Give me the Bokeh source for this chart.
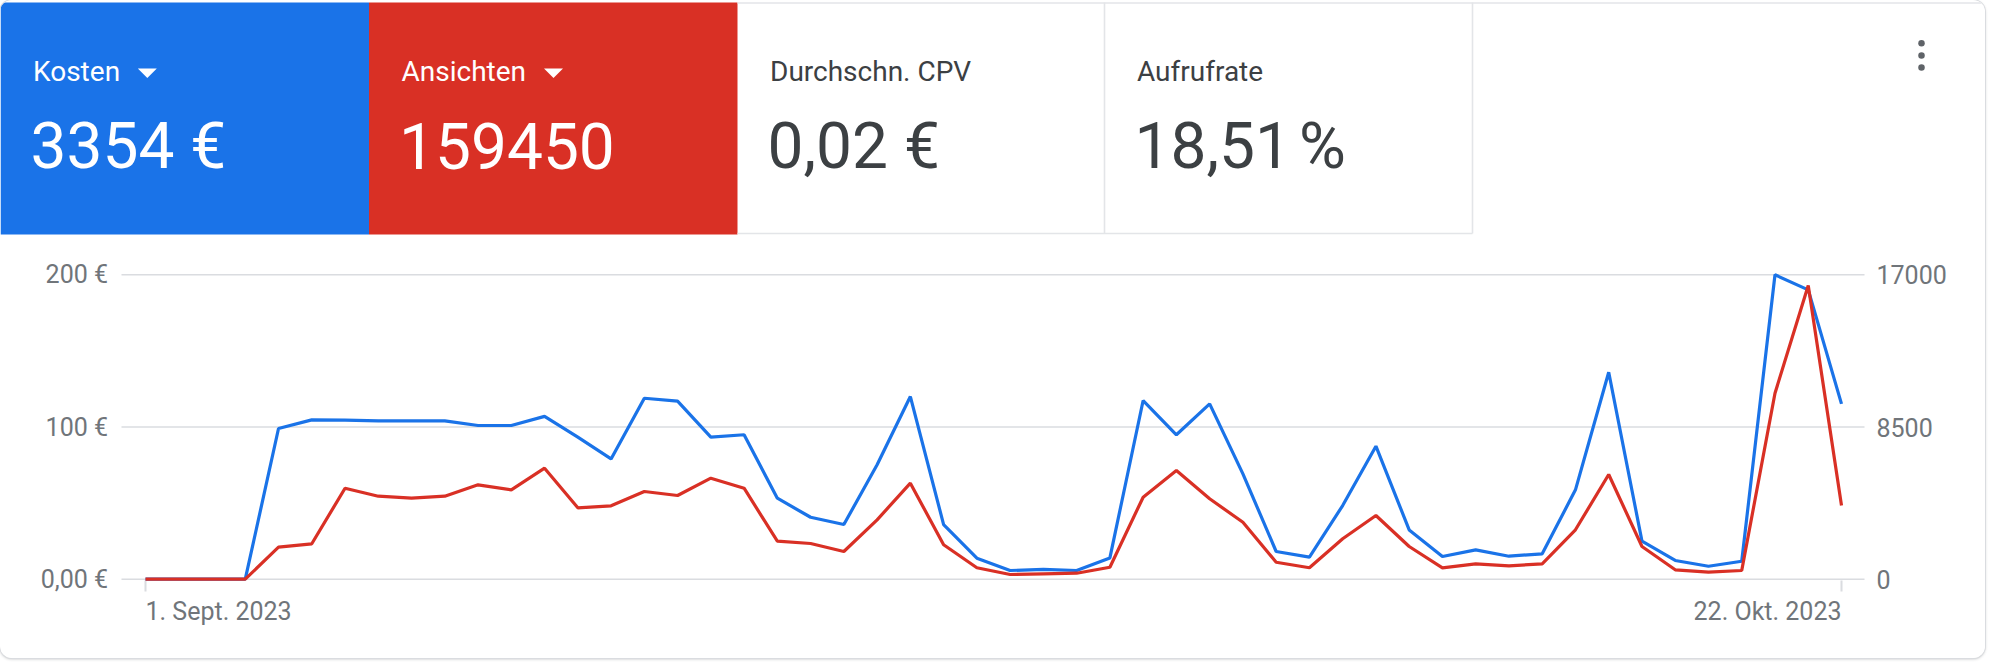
import pandas as pd
from bokeh.plotting import figure
from bokeh.models import Range1d, ColumnDataSource
from bokeh.core.properties import value
from bokeh.embed import file_html
from bokeh.resources import INLINE

# ---------------- data ----------------
dates = pd.date_range("2023-09-01", "2023-10-22", freq="D")
cost_eur = [0, 0, 0, 0, 99, 104.7, 104.5, 104, 104, 104, 101, 101, 107, 93.3, 79,
            118.9, 117, 93.3, 94.9, 53.2, 40.7, 35.9, 75.2, 120, 35.9, 13.8, 5.7, 6.4,
            5.7, 14, 117.4, 94.9, 115.2, 69.2, 18.2, 14.5, 48.4, 87.4, 32.4, 14.9, 19.3,
            15.1, 16.7, 58.7, 136, 25, 12.3, 8.5, 11.8, 200, 190.1, 115.2]
views = [0, 0, 0, 0, 1787, 1977, 5082, 4635, 4524, 4635, 5272, 4993, 6199, 3987, 4099,
         4898, 4674, 5641, 5082, 2122, 1994, 1547, 3317, 5362, 1921, 637, 262, 302,
         335, 670, 4580, 6071, 4490, 3183, 949, 637, 2256, 3558, 1826, 637, 860,
         748, 860, 2759, 5847, 1826, 525, 391, 486, 10388, 16403, 4116]

metric_names = ["Kosten", "Ansichten", "Durchschn. CPV", "Aufrufrate"]
metric_values = ["3354 €", "159450", "0,02 €", "18,51\u202f%"]

cost_ticks = [0, 100, 200]
cost_tick_labels = ["0,00 €", "100 €", "200 €"]
views_ticks = [0, 8500, 17000]
views_tick_labels = ["0", "8500", "17000"]
date_tick_labels = ["1. Sept. 2023", "22. Okt. 2023"]

# ---------------- styles / layout (pixel positions on the page) ----------------
BLUE = "#1a73e8"
RED = "#d93025"
DARK = "#3c4043"
GRAY = "#70757a"
GRID = "#dadce0"
BORDER = "#e3e5e8"
FONT = value("Roboto")

W, H = 1985, 658
LEFT, RIGHT, TOP, BOTTOM = 0, W, 0, H

GRID_L, GRID_R = 121, 1864   # horizontal extent of the grid lines
X0, XN = 145, 1841           # first / last day
Y0, YMAX = 578.7, 274.3      # value 0 / top tick
LBL_L, LBL_R = 107.5, 1876   # y tick label anchors
DATE_MID = 610.5             # vertical centre of the date labels

DAY_MS = 86400000.0
ms = dates.asi8 / 1e6
day_px = (XN - X0) / (len(dates) - 1)


def px_to_ms(px):
    return ms[0] + (px - X0) / day_px * DAY_MS


px_per = (Y0 - YMAX) / cost_ticks[-1]


def py_to_cost(py):
    return (Y0 - py) / px_per


ratio = views_ticks[-1] / cost_ticks[-1]

p = figure(width=W, height=H,
           x_range=Range1d(px_to_ms(LEFT), px_to_ms(RIGHT)),
           y_range=Range1d(py_to_cost(BOTTOM), py_to_cost(TOP)),
           min_border=0, x_axis_location=None, y_axis_location=None,
           output_backend="svg", toolbar_location=None)
p.extra_y_ranges = {"views": Range1d(py_to_cost(BOTTOM) * ratio, py_to_cost(TOP) * ratio),
                    "px": Range1d(BOTTOM, TOP)}
p.extra_x_ranges = {"px": Range1d(LEFT, RIGHT)}
p.grid.visible = False
p.outline_line_color = None
p.background_fill_color = "white"
p.border_fill_color = "white"

# ---------------- metric tiles ----------------
tile_edges = [0, 368.5, 737, 1104, 1472]
tile_text = ["white", "white", DARK, DARK]
TILE_TOP, TILE_BOTTOM = 2, 234

p.quad(left=tile_edges[:2], right=tile_edges[1:3], top=[TILE_TOP, TILE_TOP],
       bottom=[TILE_BOTTOM, TILE_BOTTOM], fill_color=[BLUE, RED], line_color=None,
       x_range_name="px", y_range_name="px")

p.segment(x0=[tile_edges[3], tile_edges[4], tile_edges[2], tile_edges[2]],
          y0=[TILE_TOP, TILE_TOP, 233, 2.5],
          x1=[tile_edges[3], tile_edges[4], tile_edges[4], RIGHT],
          y1=[233, 233, 233, 2.5],
          line_color=BORDER, line_width=1.6, x_range_name="px", y_range_name="px")

lbl_src = ColumnDataSource(dict(
    x=[e + 32.5 for e in tile_edges[:4]],
    xv=[e + 30 for e in tile_edges[:4]],
    name=metric_names, val=metric_values, color=tile_text))
p.text(x="x", y=70.5, text="name", source=lbl_src, text_font=FONT,
       text_font_size="28px", text_color="color", text_baseline="middle",
       x_range_name="px", y_range_name="px")
p.text(x="xv", y=145.5, text="val", source=lbl_src, text_font=FONT,
       text_font_size="64px", text_color="color", text_baseline="middle",
       x_range_name="px", y_range_name="px")

arrow_left = [137.3, 543.5]
p.patches(xs=[[a, a + 19, a + 9.5] for a in arrow_left],
          ys=[[68, 68, 77.5] for _ in arrow_left],
          fill_color="white", line_color=None, x_range_name="px", y_range_name="px")

p.scatter(x=[1921, 1921, 1921], y=[42.7, 55, 67], size=6.5,
          fill_color="#5f6368", line_color=None, x_range_name="px", y_range_name="px")

# ---------------- chart ----------------
# grid lines at the cost ticks
p.segment(x0=[px_to_ms(GRID_L)] * len(cost_ticks), x1=[px_to_ms(GRID_R)] * len(cost_ticks),
          y0=cost_ticks, y1=cost_ticks, line_color=GRID, line_width=1.6)

# left (cost) tick labels
p.text(x=[px_to_ms(LBL_L)] * len(cost_ticks), y=cost_ticks, text=cost_tick_labels,
       text_align="right", text_baseline="middle", text_font=FONT,
       text_font_size="25px", text_color=GRAY)
# right (views) tick labels
p.text(x=[px_to_ms(LBL_R)] * len(views_ticks), y=views_ticks, text=views_tick_labels,
       text_align="left", text_baseline="middle", text_font=FONT,
       text_font_size="25px", text_color=GRAY, y_range_name="views")

# date ticks and labels
date_ticks = [dates[0], dates[-1]]
p.segment(x0=date_ticks, x1=date_ticks, y0=[py_to_cost(580)] * 2, y1=[py_to_cost(591)] * 2,
          line_color=GRID, line_width=2)
p.text(x=date_ticks, y=[py_to_cost(DATE_MID)] * 2, text=date_tick_labels,
       text_align=["left", "right"], text_baseline="middle", text_font=FONT,
       text_font_size="25px", text_color=GRAY)

src = ColumnDataSource(dict(date=dates, cost=cost_eur, views=views))
p.line(x="date", y="cost", source=src, line_color=BLUE, line_width=3.2)
p.line(x="date", y="views", source=src, y_range_name="views", line_color=RED, line_width=3.2)

p.styles = {
    "border-radius": "12px",
    "overflow": "hidden",
    "box-shadow": "0 0 0 1px #dadce0, 0 1px 3px rgba(60,64,67,0.35)",
}

open("out.html", "w").write(file_html(p, INLINE))
